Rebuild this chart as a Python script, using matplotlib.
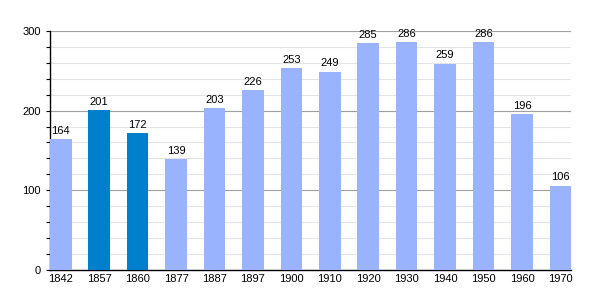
import matplotlib
matplotlib.use("Agg")
import matplotlib.pyplot as plt
import numpy as np

plt.rcParams['font.family'] = ['Liberation Sans', 'DejaVu Sans']

years = ['1842', '1857', '1860', '1877', '1887', '1897', '1900', '1910',
         '1920', '1930', '1940', '1950', '1960', '1970']
population = [164, 201, 172, 139, 203, 226, 253, 249, 285, 286, 259, 286, 196, 106]
highlight = ['1857', '1860']

light = '#99b3ff'
dark = '#0080cc'

fig = plt.figure(figsize=(6, 3), dpi=100)
ax = fig.add_axes([0.0833, 0.1, 0.8687, 0.797])

x = np.arange(len(years))
colors = [dark if y in highlight else light for y in years]
ax.bar(x, population, width=0.56, color=colors, zorder=3)

for xi, v in zip(x, population):
    ax.text(xi, v + 4, str(v), ha='center', va='bottom', fontsize=8, zorder=4)

ax.set_xlim(-0.28, len(years) - 0.72)
ax.set_ylim(0, 300)
ax.set_yticks([0, 100, 200, 300])
ax.set_yticks(np.arange(0, 301, 20), minor=True)
ax.set_xticks(x)
ax.set_xticklabels(years)
ax.tick_params(axis='both', labelsize=8, length=3, width=0.8)
ax.tick_params(axis='y', which='minor', length=3, width=0.8)
ax.tick_params(axis='x', length=0, pad=3)

ax.grid(axis='y', which='major', color='#a0a0a0', linewidth=0.8, zorder=1)
ax.grid(axis='y', which='minor', color='#e4e4e4', linewidth=0.8, zorder=0)

for s in ['top', 'right']:
    ax.spines[s].set_visible(False)
ax.spines['left'].set_linewidth(1)
ax.spines['bottom'].set_linewidth(1)

fig.savefig('out.png', dpi=100)
